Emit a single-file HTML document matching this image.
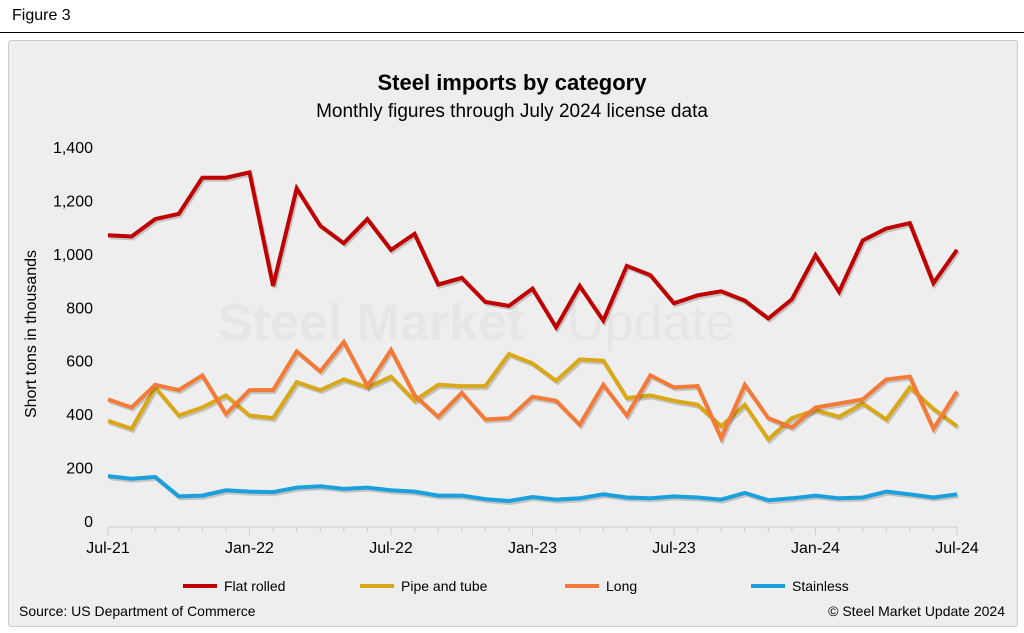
<!DOCTYPE html>
<html><head><meta charset="utf-8"><style>
body{margin:0;width:1024px;height:633px;background:#fff;font-family:"Liberation Sans",Arial,sans-serif;overflow:hidden}
#hdr{position:absolute;left:0;top:0;width:1024px;height:34px;background:#fff}
#hdr span{position:absolute;left:12px;top:7px;font-size:16px;color:#000}
#hdr div{position:absolute;left:0;top:32px;width:1024px;height:1px;background:#000}
#panel{position:absolute;left:8px;top:40px;width:1008px;height:585px;background:#eeeeee;border:1px solid #ccc;border-radius:3px}
svg{position:absolute;left:0;top:0}
</style></head><body>
<div id="hdr"><span>Figure 3</span><div></div></div>
<div id="panel"></div>
<svg id="chart" width="1024" height="633"></svg>
<script>
const months=["Jul-21","Jan-22","Jul-22","Jan-23","Jul-23","Jan-24","Jul-24"];
const yTicks=[0,200,400,600,800,1000,1200,1400];
const flatRolled=[1070,1065,1130,1150,1285,1285,1305,880,1245,1105,1040,1130,1015,1075,885,910,820,805,870,725,880,750,955,920,815,845,860,825,758,830,995,858,1050,1095,1115,890,1015];
const pipeTube=[375,345,500,395,425,470,395,385,520,490,530,500,540,450,510,505,505,625,590,525,605,600,460,470,450,435,355,435,305,385,415,390,440,380,500,420,355];
const longProd=[455,425,510,490,545,400,490,490,635,560,670,505,640,470,390,480,380,385,465,450,360,510,395,545,500,505,310,510,385,350,425,440,455,530,540,345,485];
const stainless=[168,158,165,92,95,115,110,108,125,130,120,125,115,110,95,95,82,75,90,80,85,100,88,85,92,88,80,105,78,85,95,85,88,110,100,88,100];
const seriesNames=["Flat rolled","Pipe and tube","Long","Stainless"];
const colors=["#c00000","#d9a818","#f47a38","#1aa0dc"];
const X0=108,X1=957,Y0=521,Y1=147;
const xs=i=>X0+(X1-X0)*i/36;
const ys=v=>Y0-(Y0-Y1)*v/1400;
const svg=document.getElementById('chart');
const NS="http://www.w3.org/2000/svg";
function mk(t,a,txt){const e=document.createElementNS(NS,t);for(const k in a)e.setAttribute(k,a[k]);if(txt!=null)e.textContent=txt;svg.appendChild(e);return e;}
let e;
e=mk('text',{x:512,y:90,'text-anchor':'middle','font-size':22,'font-weight':'bold',fill:'#000'},'Steel imports by category');


e=mk('text',{x:512,y:117,'text-anchor':'middle','font-size':19,fill:'#000'},'Monthly figures through July 2024 license data');


e=mk('text',{x:218,y:340,'font-size':52,'font-weight':'bold',fill:'#e6e6e6'},'Steel Market');


e=mk('text',{x:567,y:340,'font-size':52,fill:'#e6e6e6'},'Update');


yTicks.forEach(v=>{
e=mk('text',{x:93,y:ys(v)+6,'text-anchor':'end','font-size':16,fill:'#000'},v.toLocaleString('en-US'));


});
e=mk('text',{x:36,y:334,'text-anchor':'middle','font-size':16,fill:'#000',transform:'rotate(-90 36 334)'},'Short tons in thousands');


e=mk('line',{x1:X0,x2:X1,y1:Y0+6,y2:Y0+6,stroke:'#ccc','stroke-width':1});


for(let i=0;i<=36;i++){
e=mk('line',{x1:xs(i),x2:xs(i),y1:Y0+6,y2:i%6==0?Y0+14:Y0+11,stroke:'#ccc','stroke-width':1});


}
months.forEach((m,k)=>{
e=mk('text',{x:xs(k*6),y:553,'text-anchor':'middle','font-size':16,fill:'#000'},m);


});
const allSeries=[flatRolled,pipeTube,longProd,stainless];
[3,1,2,0].forEach(s=>{
const d=allSeries[s].map((v,i)=>(i?'L':'M')+xs(i).toFixed(1)+','+ys(v).toFixed(1)).join('');
e=mk('path',{d:d,fill:'none',stroke:'rgba(0,0,0,0.18)','stroke-width':4,transform:'translate(1.5,2)','stroke-linejoin':'miter'});


e=mk('path',{d:d,fill:'none',stroke:colors[s],'stroke-width':4,'stroke-linejoin':'miter'});


});
const lx=[183,360,565,751];
seriesNames.forEach((n,s)=>{
e=mk('line',{x1:lx[s],x2:lx[s]+34,y1:586,y2:586,stroke:colors[s],'stroke-width':4});


e=mk('text',{x:lx[s]+41,y:591,'font-size':14,fill:'#000'},n);


});
e=mk('text',{x:19,y:616,'font-size':14,fill:'#000'},'Source: US Department of Commerce');


e=mk('text',{x:1005,y:616,'text-anchor':'end','font-size':14,fill:'#000'},'© Steel Market Update 2024');


</script>
</body></html>
